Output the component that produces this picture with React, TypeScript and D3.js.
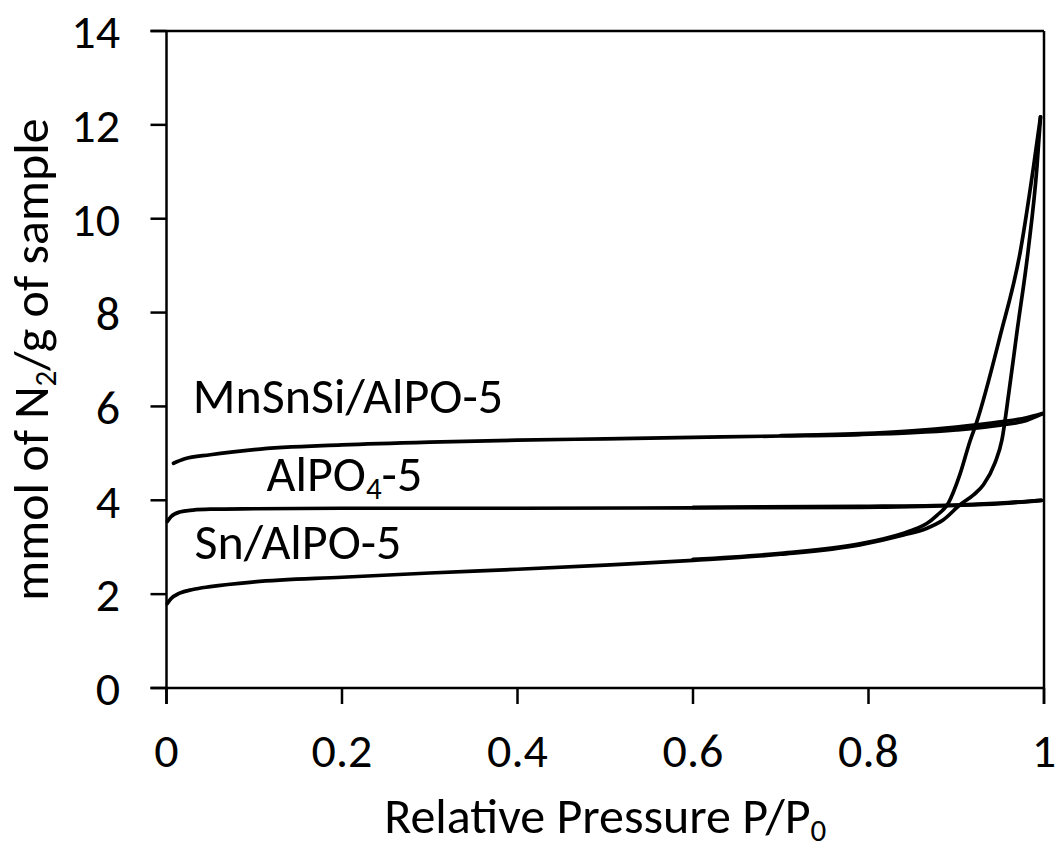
import React from "react";
import * as d3 from "d3";

const xTicks = [0, 0.2, 0.4, 0.6, 0.8, 1];
const xTickLabels = ["0", "0.2", "0.4", "0.6", "0.8", "1"];
const yTicks = [0, 2, 4, 6, 8, 10, 12, 14];
const yTickLabels = ["0", "2", "4", "6", "8", "10", "12", "14"];

// Sn/AlPO-5 adsorption branch
const snAdsP = [0.001, 0.005, 0.015, 0.03, 0.05, 0.1, 0.2, 0.3, 0.4, 0.5, 0.6, 0.7, 0.79, 0.84, 0.866, 0.885, 0.904, 0.92, 0.931, 0.944, 0.952, 0.96, 0.969, 0.982, 0.992, 0.996];
const snAdsV = [1.8, 1.9, 2.02, 2.1, 2.16, 2.26, 2.36, 2.45, 2.53, 2.62, 2.72, 2.85, 3.05, 3.26, 3.4, 3.58, 3.9, 4.12, 4.33, 4.79, 5.28, 6.3, 7.56, 9.33, 11.11, 12.17];
// Sn/AlPO-5 desorption branch
const snDesP = [0.6, 0.7, 0.79, 0.84, 0.855, 0.866, 0.878, 0.891, 0.904, 0.916, 0.923, 0.95, 0.973, 0.988, 0.996];
const snDesV = [2.74, 2.87, 3.07, 3.3, 3.4, 3.5, 3.68, 3.94, 4.54, 5.28, 5.65, 7.5, 9.3, 11.1, 12.17];

// AlPO4-5
const alpoAdsP = [0.001, 0.005, 0.015, 0.03, 0.05, 0.1, 0.2, 0.4, 0.6, 0.79, 0.9, 0.95, 0.997];
const alpoAdsV = [3.55, 3.65, 3.75, 3.79, 3.81, 3.82, 3.83, 3.83, 3.84, 3.85, 3.89, 3.93, 4.0];
const alpoDesP = [0.6, 0.79, 0.9, 0.95, 0.997];
const alpoDesV = [3.85, 3.87, 3.9, 3.94, 4.0];

// MnSnSi/AlPO-5
const mnAdsP = [0.008, 0.02, 0.05, 0.1, 0.2, 0.3, 0.4, 0.5, 0.6, 0.7, 0.79, 0.85, 0.9, 0.95, 0.98, 0.998];
const mnAdsV = [4.79, 4.88, 4.97, 5.08, 5.18, 5.24, 5.28, 5.31, 5.34, 5.37, 5.4, 5.44, 5.5, 5.6, 5.7, 5.84];
const mnDesP = [0.7, 0.79, 0.85, 0.9, 0.95, 0.98, 0.998];
const mnDesV = [5.38, 5.42, 5.48, 5.56, 5.67, 5.76, 5.85];

const labels = [
  { text: "MnSnSi/AlPO-5", x: 0.03, y: 5.85 },
  { text: "AlPO", sub: "4", after: "-5", x: 0.114, y: 4.2 },
  { text: "Sn/AlPO-5", x: 0.032, y: 2.75 },
];

const W = 1059;
const H = 851;
const left = 166.5;
const right = 1044;
const top = 31;
const bottom = 688;
const FONT = "Carlito, Calibri, Lato, 'Open Sans', sans-serif";

export default function App() {
  const x = d3.scaleLinear().domain([0, 1]).range([left, right]);
  const y = d3.scaleLinear().domain([0, 14]).range([bottom, top]);
  const line = d3
    .line<[number, number]>()
    .x((d) => x(d[0]))
    .y((d) => y(d[1]))
    .curve(d3.curveMonotoneX);
  const zip = (a: number[], b: number[]) => a.map((v, i) => [v, b[i]] as [number, number]);
  const series = [
    zip(snAdsP, snAdsV),
    zip(snDesP, snDesV),
    zip(alpoAdsP, alpoAdsV),
    zip(alpoDesP, alpoDesV),
    zip(mnAdsP, mnAdsV),
    zip(mnDesP, mnDesV),
  ];
  const fs = 50;
  const tfs = 48;
  return (
    <svg
      width={W}
      height={H}
      style={{ position: "absolute", left: 0, top: 0, background: "#fff" }}
      fontFamily={FONT}
    >
      <rect x={0} y={0} width={W} height={H} fill="#fff" />
      {/* frame */}
      <line x1={left - 16} x2={right} y1={top} y2={top} stroke="#000" strokeWidth={2.5} />
      <line x1={left - 16} x2={right} y1={bottom} y2={bottom} stroke="#000" strokeWidth={2.5} />
      <line x1={left} x2={left} y1={top} y2={bottom + 16} stroke="#000" strokeWidth={2.5} />
      <line x1={right} x2={right} y1={top} y2={bottom + 16} stroke="#000" strokeWidth={2.5} />
      {yTicks.map((t) => (
        <line key={"yt" + t} x1={left - 16} x2={left} y1={y(t)} y2={y(t)} stroke="#000" strokeWidth={2.5} />
      ))}
      {xTicks.map((t) => (
        <line key={"xt" + t} x1={x(t)} x2={x(t)} y1={bottom} y2={bottom + 16} stroke="#000" strokeWidth={2.5} />
      ))}
      {yTicks.map((t, i) => (
        <text key={"yl" + t} x={120} y={y(t)} dy="0.36em" textAnchor="end" fontSize={tfs} fill="#000">
          {yTickLabels[i]}
        </text>
      ))}
      {xTicks.map((t, i) => (
        <text key={"xl" + t} x={x(t)} y={767} textAnchor="middle" fontSize={tfs} fill="#000">
          {xTickLabels[i]}
        </text>
      ))}
      <text x={(left + right) / 2} y={833} textAnchor="middle" fontSize={fs} fill="#000">
        Relative Pressure P/P<tspan fontSize={fs * 0.62} dy={8}>0</tspan>
      </text>
      <text
        transform={`translate(48, ${(top + bottom) / 2}) rotate(-90)`}
        textAnchor="middle"
        fontSize={fs}
        fill="#000"
      >
        mmol of N<tspan fontSize={fs * 0.62} dy={8}>2</tspan>
        <tspan dy={-8}>/g of sample</tspan>
      </text>
      {series.map((s, i) => (
        <path key={"s" + i} d={line(s) || ""} fill="none" stroke="#000" strokeWidth={3.7} strokeLinejoin="round" strokeLinecap="round" />
      ))}
      {labels.map((l, i) => (
        <text key={"lb" + i} x={x(l.x)} y={y(l.y)} fontSize={fs} fill="#000">
          {l.text}
          {l.sub ? (
            <>
              <tspan fontSize={fs * 0.62} dy={8}>{l.sub}</tspan>
              <tspan dy={-8}>{l.after}</tspan>
            </>
          ) : null}
        </text>
      ))}
    </svg>
  );
}
